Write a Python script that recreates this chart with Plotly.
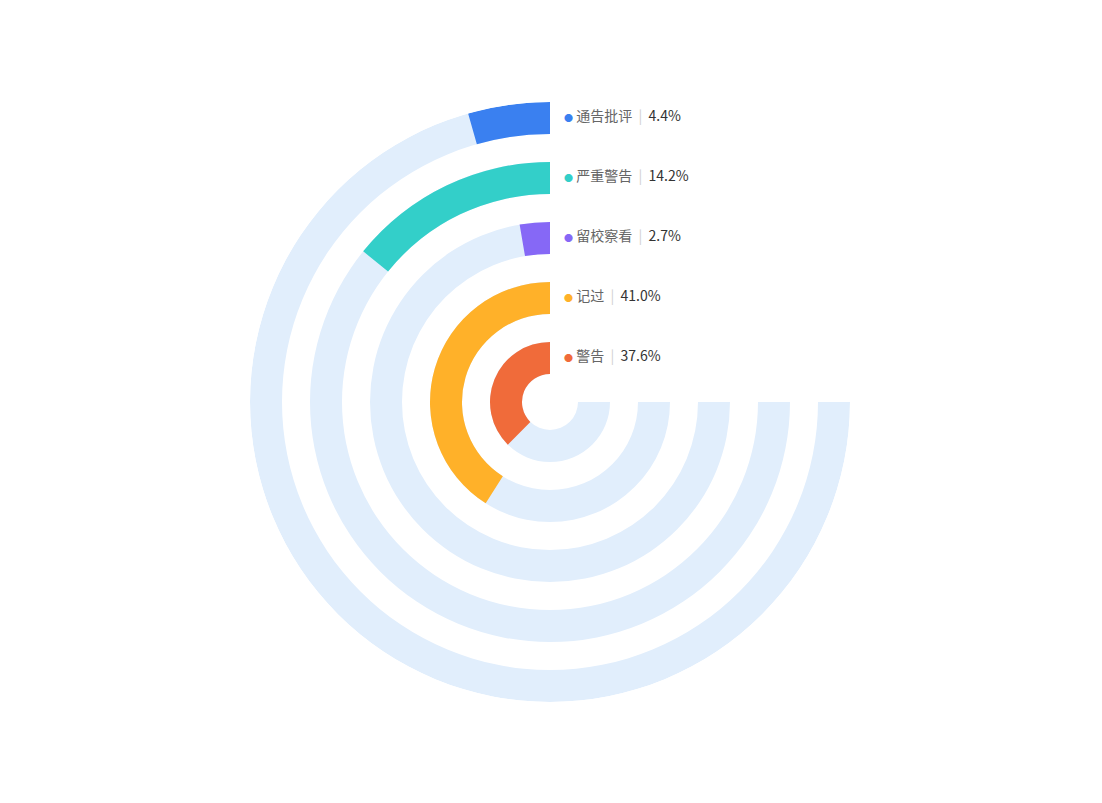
import plotly.graph_objects as go

categories = ["警告", "记过", "留校察看", "严重警告", "通告批评"]
values = [37.6, 41.0, 2.7, 14.2, 4.4]
colors = ["#F06B3A", "#FFB129", "#8668F6", "#33CFC9", "#3A80F0"]
track_color = "#E1EEFC"

W, H = 1102, 803
R_MAX = 300
inner0, thick, step = 28, 32, 60
track_span = 270

fig = go.Figure()
for i, (cat, v, c) in enumerate(zip(categories, values, colors)):
    base = inner0 + step * i
    fig.add_trace(go.Barpolar(
        r=[thick], base=[base], theta=[track_span / 2], width=[track_span],
        marker=dict(color=track_color, line=dict(width=0)),
        hoverinfo="skip", showlegend=False))
    span = v * 3.6
    fig.add_trace(go.Barpolar(
        r=[thick], base=[base], theta=[span / 2], width=[span],
        marker=dict(color=c, line=dict(width=0)),
        name=cat, showlegend=False,
        hovertemplate=f"{cat}: {v}%<extra></extra>"))

cx, cy = 550, 402
dom_x = [(cx - R_MAX) / W, (cx + R_MAX) / W]
dom_y = [(H - cy - R_MAX) / H, (H - cy + R_MAX) / H]

annotations = []
for i, (cat, v, c) in enumerate(zip(categories, values, colors)):
    mid = inner0 + step * i + thick / 2
    ypix = cy - mid - 3
    annotations.append(dict(
        x=(cx + 12) / W, y=(H - ypix) / H, xref="paper", yref="paper",
        xanchor="left", yanchor="middle", showarrow=False,
        text=(f"<span style='color:{c};font-size:9px'>●</span> "
              f"<span style='color:#666'>{cat}</span>  "
              f"<span style='color:#d0d0d0'>|</span>  "
              f"<span style='color:#333'>{v:.1f}%</span>"),
        font=dict(size=14, family="Noto Sans CJK SC")))

fig.update_layout(
    width=W, height=H, margin=dict(l=0, r=0, t=0, b=0),
    paper_bgcolor="white", plot_bgcolor="white",
    bargap=0,
    polar=dict(
        domain=dict(x=dom_x, y=dom_y),
        bgcolor="white",
        hole=0,
        radialaxis=dict(range=[0, R_MAX], visible=False, showgrid=False),
        angularaxis=dict(rotation=90, direction="counterclockwise",
                         visible=False, showgrid=False),
    ),
    annotations=annotations,
    font=dict(family="Noto Sans CJK SC"),
)

fig.write_html("out.html")
